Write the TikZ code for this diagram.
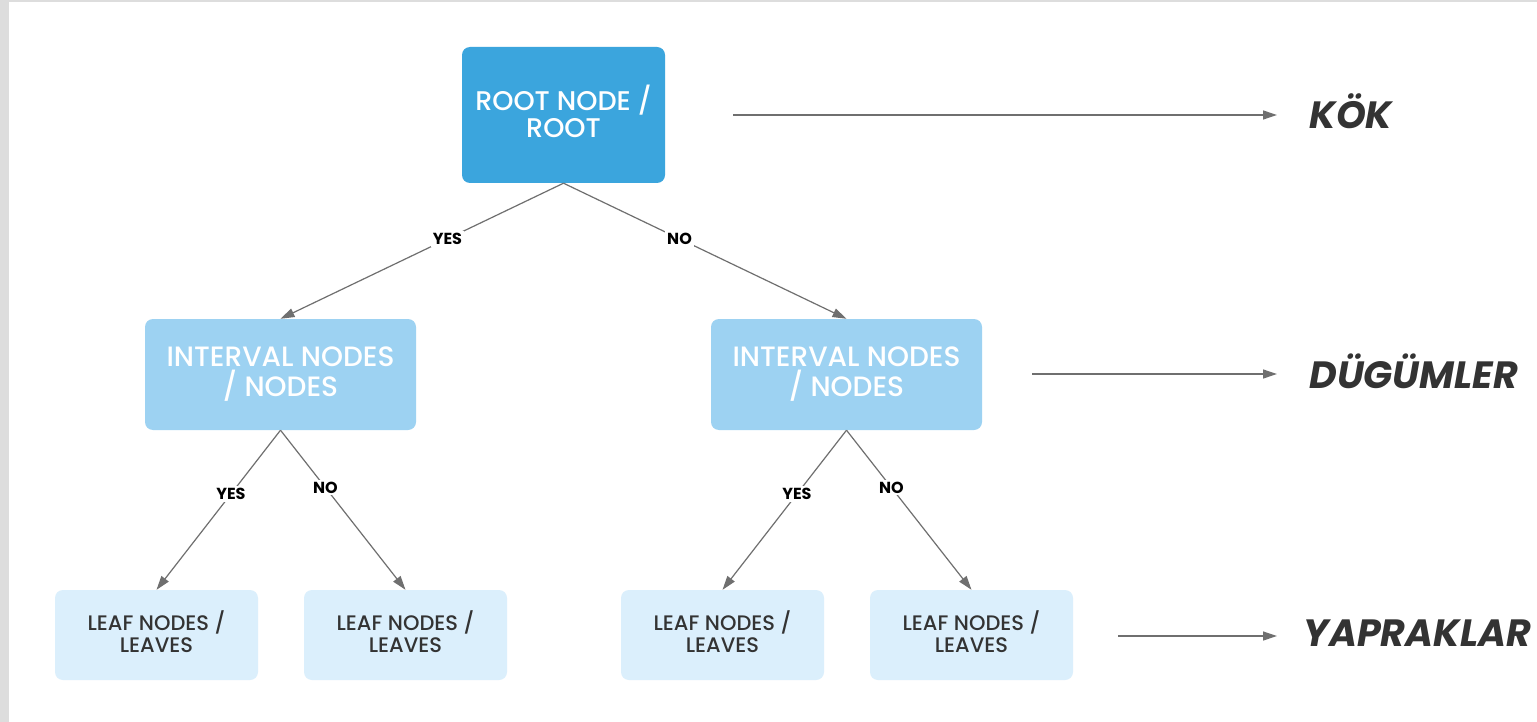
\documentclass[tikz,border=0pt]{standalone}
\usepackage{fontspec}
\setmainfont{Poppins}
\newfontfamily\cajafont{Poppins}[UprightFont=* Medium]
\usepackage{tikz}
\usetikzlibrary{positioning,arrows.meta}
\definecolor{trRoot}{HTML}{3BA5DD}
\definecolor{trMid}{HTML}{9DD2F2}
\definecolor{trLeaf}{HTML}{DBEFFC}
\definecolor{trLine}{HTML}{6F6F6F}
\definecolor{trInk}{HTML}{333333}
\definecolor{trFrame}{HTML}{DDDDDD}

\begin{document}
\begin{tikzpicture}[
  x=1pt, y=-1pt,
  caja/.style={rounded corners=8pt, align=center, inner sep=0pt},
  raiz/.style={caja, fill=trRoot, text=white, minimum width=203pt, minimum height=136pt,
               font=\cajafont\fontsize{27}{28}\selectfont},
  rama/.style={caja, fill=trMid, text=white, minimum width=271pt, minimum height=111pt,
               font=\cajafont\fontsize{28}{29}\selectfont},
  hoja/.style={caja, fill=trLeaf, text=trInk, minimum width=203pt, minimum height=90pt,
               font=\cajafont\fontsize{21}{22}\selectfont},
  flecha/.style={-{Triangle[length=14pt, width=9pt]}, line width=1.2pt, draw=trLine},
  resp/.style={fill=white, inner sep=2pt, text=black, font=\bfseries\fontsize{16}{16}\selectfont},
  nivel/.style={anchor=west, text=trInk, font=\bfseries\itshape\fontsize{38}{38}\selectfont},
]
\useasboundingbox (0,0) rectangle (1537,722);
\fill[trFrame] (0,0) rectangle (1537,722);
\fill[white] (9,2) rectangle (1537,722);

% ---- Raiz ----
\node[raiz] (root) at (563.5,115) {\raisebox{8pt}{\shortstack{ROOT NODE /\\ROOT}}};

% ---- Nodos intermedios ----
\node[rama] (izq) at (280.5,374.5) {\raisebox{6pt}{\shortstack{INTERVAL NODES\\/ NODES}}};
\node[rama] (der) at (846.5,374.5) {\raisebox{6pt}{\shortstack{INTERVAL NODES\\/ NODES}}};

% ---- Hojas ----
\node[hoja] (h1) at (156.5,635) {\raisebox{7pt}{\shortstack{LEAF NODES /\\LEAVES}}};
\node[hoja] (h2) at (405.5,635) {\raisebox{7pt}{\shortstack{LEAF NODES /\\LEAVES}}};
\node[hoja] (h3) at (722.5,635) {\raisebox{7pt}{\shortstack{LEAF NODES /\\LEAVES}}};
\node[hoja] (h4) at (971.5,635) {\raisebox{7pt}{\shortstack{LEAF NODES /\\LEAVES}}};

% ---- Flechas ----
\draw[flecha] (root.south) -- node[resp, pos=0.41] {YES} (izq.north);
\draw[flecha] (root.south) -- node[resp, pos=0.41] {NO} (der.north);
\draw[flecha] (izq.south) -- node[resp, pos=0.40] {YES} (h1.north);
\draw[flecha] (izq.south) -- node[resp, pos=0.36] {NO} (h2.north);
\draw[flecha] (der.south) -- node[resp, pos=0.40] {YES} (h3.north);
\draw[flecha] (der.south) -- node[resp, pos=0.36] {NO} (h4.north);

% ---- Niveles ----
\node[nivel] (kok) at (1306,111) {KÖK};
\node[nivel] (dug) at (1306,371) {DÜGÜMLER};
\node[nivel] (yap) at (1300,633) {YAPRAKLAR};
\coordinate (k0) at (733,115);  \coordinate (k1) at (1277,115);
\coordinate (d0) at (1032,374); \coordinate (d1) at (1277,374);
\coordinate (y0) at (1118,636); \coordinate (y1) at (1277,636);
\draw[flecha] (k0) -- (k1);
\draw[flecha] (d0) -- (d1);
\draw[flecha] (y0) -- (y1);

\end{tikzpicture}
\end{document}
